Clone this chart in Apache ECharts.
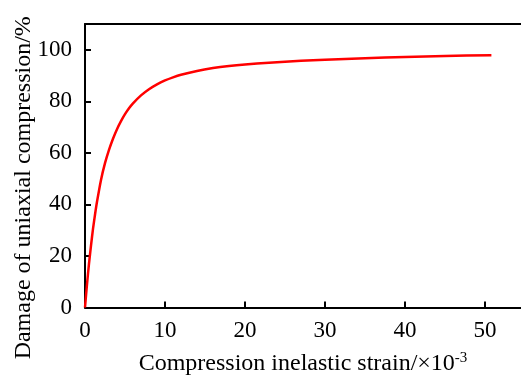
<!DOCTYPE html>
<html><head><meta charset="utf-8">
<script src="https://cdn.jsdelivr.net/npm/echarts@6/dist/echarts.min.js"></script>
<style>html,body{margin:0;padding:0;background:#fff}#c{width:521px;height:381px}</style>
</head><body><div id="c"></div>
<script>
const strain = [0, 0.25, 0.5, 0.75, 1, 1.25, 1.5, 2, 2.5, 3, 3.5, 4, 4.5, 5, 5.5, 6, 7, 8, 9, 10, 11, 12, 14, 16, 18, 20, 23, 27, 30, 35, 40, 45, 50.8];
const damage = [0, 9, 17, 24, 30.5, 36, 41, 49.5, 56, 61.2, 65.5, 69.2, 72.3, 75, 77.3, 79.2, 82.3, 84.7, 86.6, 88.1, 89.3, 90.3, 91.8, 92.9, 93.7, 94.3, 95.0, 95.7, 96.1, 96.7, 97.2, 97.6, 97.9];
const xTicks = [0, 10, 20, 30, 40, 50];
const yTicks = [0, 20, 40, 60, 80, 100];
const xTitle = 'Compression inelastic strain/×10{sup|-3}';
const yTitle = 'Damage of uniaxial compression/%';

const font = 'Liberation Serif, Times New Roman, serif';
const chart = echarts.init(document.getElementById('c'));
const lineBlack = {color: '#000', width: 2};
chart.setOption({
  animation: false,
  grid: {left: 85, top: 24, right: 0, bottom: 73.5, containLabel: false, outerBoundsMode: 'none'},
  xAxis: [{
    type: 'value', min: 0, max: 54.5, interval: 10,
    axisLine: {lineStyle: lineBlack},
    axisTick: {inside: true, length: 6, lineStyle: lineBlack},
    splitLine: {show: false},
    axisLabel: {color: '#000', fontFamily: font, fontSize: 23, margin: 12,
      showMaxLabel: false,
      formatter: v => xTicks.includes(v) ? String(v) : ''},
    name: xTitle, nameLocation: 'middle', nameGap: 43, nameMoveOverlap: false,
    nameTextStyle: {color: '#000', fontFamily: font, fontSize: 24,
      rich: {sup: {fontFamily: font, fontSize: 15, color: '#000', verticalAlign: 'top', padding: [0,0,12,0]}}}
  }, {
    type: 'value', position: 'top', min: 0, max: 54.5,
    axisLine: {lineStyle: lineBlack},
    axisTick: {show: false}, axisLabel: {show: false}, splitLine: {show: false}
  }],
  yAxis: {
    type: 'value', min: 0, max: 110, interval: 20,
    axisLine: {lineStyle: lineBlack},
    axisTick: {inside: true, length: 6, lineStyle: lineBlack},
    splitLine: {show: false},
    axisLabel: {color: '#000', fontFamily: font, fontSize: 23, margin: 13,
      formatter: v => yTicks.includes(v) ? String(v) : ''},
    name: yTitle, nameLocation: 'middle', nameGap: 49, nameMoveOverlap: false,
    nameTextStyle: {color: '#000', fontFamily: font, fontSize: 24, padding: [0, 44, 0, 0]}
  },
  series: [{
    type: 'line', smooth: 0.25, symbol: 'none',
    data: strain.map((s, i) => [s, damage[i]]),
    lineStyle: {color: '#ff0000', width: 2.5}
  }]
});
</script></body></html>
